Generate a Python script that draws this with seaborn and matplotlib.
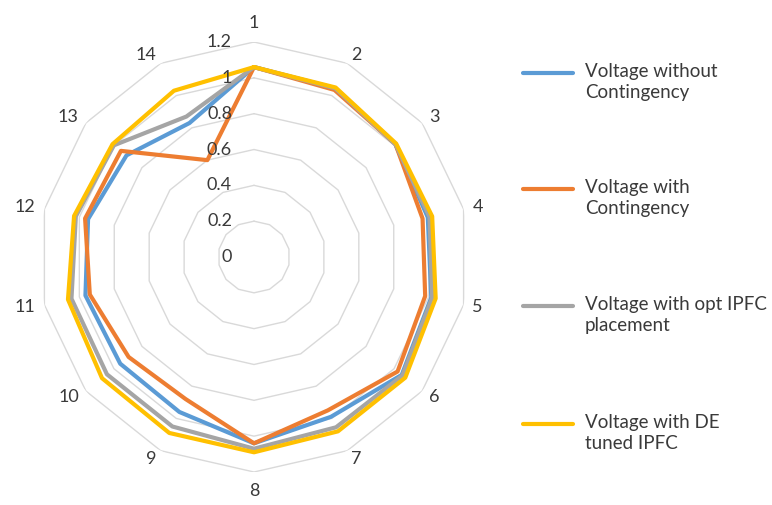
import numpy as np
import pandas as pd
import matplotlib
matplotlib.use("Agg")
import matplotlib.pyplot as plt
import matplotlib.transforms as mtransforms
from matplotlib.lines import Line2D
import seaborn as sns

sns.set_theme(style="white")
plt.rcParams['font.family'] = ['Lato', 'DejaVu Sans']

# ---------------- data ----------------
categories = [str(i) for i in range(1, 15)]
series_names = [
    "Voltage without\nContingency",
    "Voltage with\nContingency",
    "Voltage with opt IPFC\nplacement",
    "Voltage with DE\ntuned IPFC",
]
v_without = [1.06, 1.045, 1.01, 0.995, 1.015, 1.055, 0.99, 1.04, 0.96, 0.955, 0.965, 0.95, 0.91, 0.83]
v_contingency = [1.06, 1.035, 1.01, 0.965, 0.98, 1.025, 0.95, 1.04, 0.88, 0.895, 0.94, 0.967, 0.95, 0.60]
v_opt_ipfc = [1.06, 1.045, 1.01, 1.005, 1.02, 1.06, 1.055, 1.07, 1.05, 1.05, 1.045, 1.02, 1.0, 0.87]
v_de_ipfc = [1.06, 1.05, 1.015, 1.02, 1.04, 1.08, 1.08, 1.09, 1.09, 1.085, 1.065, 1.03, 1.01, 1.03]
radial_ticks = [0, 0.2, 0.4, 0.6, 0.8, 1.0, 1.2]
radial_labels = ["0", "0.2", "0.4", "0.6", "0.8", "1", "1.2"]
colors = ["#5B9BD5", "#ED7D31", "#A5A5A5", "#FFC000"]

all_series = [v_without, v_contingency, v_opt_ipfc, v_de_ipfc]

n = len(categories)
theta = np.arange(n) * 2 * np.pi / n
theta_closed = np.append(theta, theta[0])

rows = []
for name, vals in zip(series_names, all_series):
    closed = list(vals) + [vals[0]]
    for k, (t, v) in enumerate(zip(theta_closed, closed)):
        rows.append({"series": name, "order": k, "theta": t, "value": v})
df = pd.DataFrame(rows)

# ---------------- figure ----------------
W, H = 772, 505
fig = plt.figure(figsize=(W / 100, H / 100), dpi=100)
cx, cy, R = 254, 257, 215
ax = fig.add_axes([(cx - R) / W, (H - cy - R) / H, 2 * R / W, 2 * R / H], projection="polar")
ax.set_theta_zero_location("N")
ax.set_theta_direction(-1)
ax.grid(False)
ax.spines["polar"].set_visible(False)
ax.patch.set_alpha(0)

rmax = radial_ticks[-1]
# polygon gridlines
for r in radial_ticks[1:]:
    ax.plot(theta_closed, [r] * (n + 1), color="#D9D9D9", lw=1.0, zorder=1)

sns.lineplot(data=df, x="theta", y="value", hue="series", hue_order=series_names,
             palette=colors, sort=False, estimator=None, units="series",
             lw=3.0, legend=False, ax=ax, zorder=3)

ax.set_ylim(0, rmax)
ax.set_xticks([])
ax.set_yticks([])
ax.set_xlabel("")
ax.set_ylabel("")

text_color = "#3a3a3a"

# radial tick labels
off = mtransforms.offset_copy(ax.transData, fig=fig, x=-22, y=0, units="dots")
for r, lab in zip(radial_ticks, radial_labels):
    ax.text(0, r, lab, transform=off, ha="right", va="center", fontsize=13, color=text_color)

# category labels, Excel-like placement just outside the outer ring vertex
for t, lab in zip(theta, categories):
    s, c = np.sin(t), np.cos(t)
    if abs(s) < 0.01:
        g = 11
        ha = "center"
        va = "bottom" if c > 0 else "top"
    else:
        g = 9
        ha = "left" if s > 0 else "right"
        va = "center"
    tr = mtransforms.offset_copy(ax.transData, fig=fig, x=g * s, y=g * c, units="dots")
    ax.text(t, rmax, lab, transform=tr, ha=ha, va=va, fontsize=13, color=text_color)

# legend (manual, Excel-like)
leg_y = [73, 189, 306, 424]
for name, col, yy in zip(series_names, colors, leg_y):
    yf = 1 - yy / H
    fig.add_artist(Line2D([523 / W, 573 / W], [yf, yf], color=col, lw=3.0,
                          solid_capstyle="round", transform=fig.transFigure))
    fig.text(585 / W, 1 - (yy - 10) / H, name, ha="left", va="top", fontsize=13.5,
             color=text_color, linespacing=1.3)

fig.savefig("out.png", dpi=100)
